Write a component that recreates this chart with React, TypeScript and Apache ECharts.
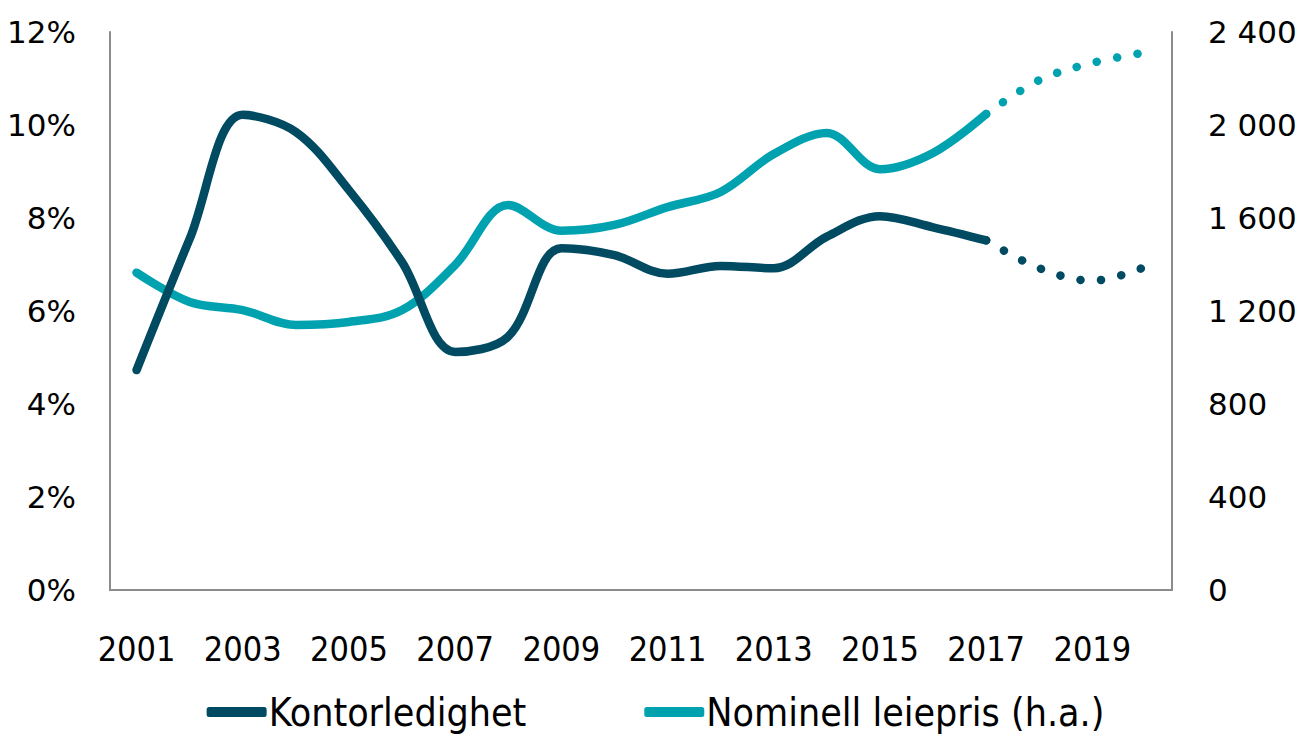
import React, { useEffect, useRef } from "react";
import * as echarts from "echarts";

const years = ["2001","2002","2003","2004","2005","2006","2007","2008","2009","2010","2011","2012","2013","2014","2015","2016","2017","2018","2019","2020"];
// Kontorledighet (%), actual 2001-2017, forecast 2017-2020
const vacancyActual = [4.73, 7.55, 10.22, 9.85, 8.6, 7.05, 5.12, 5.45, 7.35, 7.2, 6.8, 6.97, 6.92, 7.6, 8.04, 7.8, 7.52];
const vacancyForecast = [7.52, 6.92, 6.65, 6.95];
// Nominell leiepris (NOK/kvm), right axis
const rentActual = [1365, 1239, 1204, 1140, 1153, 1204, 1398, 1656, 1545, 1570, 1647, 1712, 1875, 1966, 1810, 1880, 2047];
const rentForecast = [2047, 2193, 2267, 2312];

const leftTicks = { min: 0, max: 12, interval: 2 };
const rightTicks = { min: 0, max: 2400, interval: 400 };

const DARK = "#004A62";
const TEAL = "#00A2B0";
const AXIS = "#8C8C8C";

function pad(arr: number[], start: number): (number | null)[] {
  const out: (number | null)[] = years.map(() => null);
  arr.forEach((v, i) => (out[start + i] = v));
  return out;
}

function fmtThousands(v: number): string {
  return String(v).replace(/\B(?=(\d{3})+(?!\d))/g, " ");
}

export default function App() {
  const ref = useRef<HTMLDivElement>(null);
  useEffect(() => {
    document.body.style.margin = "0";
    if (!ref.current) return;
    const chart = echarts.init(ref.current, undefined, { renderer: "svg" });
    const fcStart = years.length - vacancyForecast.length;
    const lineW = 8.5;
    const smooth = 0.35;
    chart.setOption({
      animation: false,
      grid: { left: 110, right: 139, top: 32, bottom: 146, containLabel: false },
      legend: {
        data: ["Kontorledighet", "Nominell leiepris (h.a.)"],
        top: 690,
        left: "center",
        padding: 0,
        itemWidth: 60,
        itemHeight: 10,
        itemGap: 118,
        icon: "roundRect",
        textStyle: { fontSize: 39, lineHeight: 44, fontFamily: "DejaVu Sans Condensed", color: "#000", padding: [0, 0, 0, -3] },
      },
      xAxis: {
        type: "category",
        data: years,
        boundaryGap: true,
        axisLine: { lineStyle: { color: AXIS, width: 2 } },
        axisTick: { show: false },
        axisLabel: { interval: 1, fontSize: 34, fontFamily: "DejaVu Sans Condensed", color: "#000", margin: 42 },
      },
      yAxis: [
        {
          type: "value",
          ...leftTicks,
          axisLine: { show: true, lineStyle: { color: AXIS, width: 2 } },
          axisTick: { show: false },
          splitLine: { show: false },
          axisLabel: { formatter: "{value}%", fontSize: 31, fontFamily: "DejaVu Sans", color: "#000", margin: 34 },
        },
        {
          type: "value",
          ...rightTicks,
          position: "right",
          axisLine: { show: true, lineStyle: { color: AXIS, width: 2 } },
          axisTick: { show: false },
          splitLine: { show: false },
          axisLabel: { formatter: (v: number) => fmtThousands(v), fontSize: 31, fontFamily: "DejaVu Sans", color: "#000", margin: 36 },
        },
      ],
      series: [
        {
          name: "Kontorledighet",
          type: "line",
          yAxisIndex: 0,
          data: pad(vacancyActual, 0),
          smooth,
          symbol: "none",
          color: DARK,
          lineStyle: { width: lineW, color: DARK, cap: "round", join: "round" },
          z: 3,
        },
        {
          name: "Kontorledighet prognose",
          type: "line",
          yAxisIndex: 0,
          data: pad(vacancyForecast, fcStart),
          smooth,
          symbol: "none",
          color: DARK,
          lineStyle: { width: lineW, color: DARK, cap: "round", type: [0.1, 20.5] },
          z: 3,
        },
        {
          name: "Nominell leiepris (h.a.)",
          type: "line",
          yAxisIndex: 1,
          data: pad(rentActual, 0),
          smooth,
          symbol: "none",
          color: TEAL,
          lineStyle: { width: lineW, color: TEAL, cap: "round", join: "round" },
          z: 2,
        },
        {
          name: "Nominell leiepris prognose",
          type: "line",
          yAxisIndex: 1,
          data: pad(rentForecast, fcStart),
          smooth,
          symbol: "none",
          color: TEAL,
          lineStyle: { width: lineW, color: TEAL, cap: "round", type: [0.1, 20.5] },
          z: 2,
        },
      ],
    });
    return () => chart.dispose();
  }, []);
  return <div ref={ref} style={{ width: 1311, height: 736 }} />;
}
